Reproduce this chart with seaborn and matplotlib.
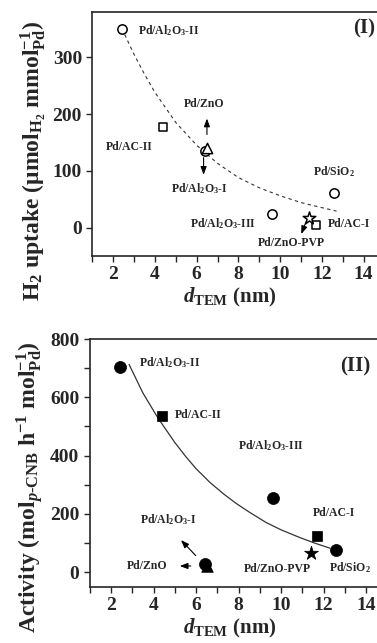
import matplotlib
matplotlib.use("Agg")
import matplotlib.pyplot as plt
import seaborn as sns
import pandas as pd

# ---------------- data ----------------
catalysts = ["Pd/Al2O3-II", "Pd/AC-II", "Pd/ZnO", "Pd/Al2O3-I",
             "Pd/Al2O3-III", "Pd/ZnO-PVP", "Pd/AC-I", "Pd/SiO2"]
shapes = ["o", "s", "^", "o", "o", "*", "s", "o"]
d_tem = [2.4, 4.4, 6.5, 6.4, 9.6, 11.4, 11.7, 12.6]
h2_uptake = [350, 178, 140, 135, 23, 17, 5, 60]
activity = [703, 537, 20, 28, 255, 65, 125, 75]

fit1_x = [2.55, 3.0, 3.5, 4.0, 5.0, 6.0, 7.0, 8.0, 9.0, 10.0, 11.0, 12.0, 12.7]
fit1_y = [340, 305, 270, 238, 185, 145, 113, 88, 70, 56, 44, 35, 29]
fit2_x = [2.85, 3.5, 4.2, 5.0, 5.5, 6.0, 6.65, 7.3, 7.9, 8.5, 9.3, 10.0, 10.9, 11.6, 12.3]
fit2_y = [713, 615, 530, 445, 398, 355, 308, 268, 235, 206, 170, 145, 118, 99, 82]

x_ticks = [2, 4, 6, 8, 10, 12, 14]
y1_ticks = [0, 100, 200, 300]
y2_ticks = [0, 200, 400, 600, 800]

# ---------------- style ----------------
sns.set_theme(style="ticks")
plt.rcParams["font.family"] = ["Liberation Serif", "DejaVu Serif"]
plt.rcParams["font.weight"] = "bold"
plt.rcParams["mathtext.fontset"] = "custom"
plt.rcParams["mathtext.rm"] = "Liberation Serif:bold"
plt.rcParams["mathtext.it"] = "Liberation Serif:italic:bold"
plt.rcParams["mathtext.bf"] = "Liberation Serif:bold"
plt.rcParams["axes.linewidth"] = 1.2

df = pd.DataFrame({"cat": catalysts, "shape": shapes, "d": d_tem,
                   "h2": h2_uptake, "act": activity})

fig = plt.figure(figsize=(3.77, 6.43), dpi=100)
ax1 = fig.add_axes([0.245, 0.602, 0.775, 0.3795])
ax2 = fig.add_axes([0.238, 0.0876, 0.790, 0.385])

size_map = {"o": 45, "s": 40, "^": 55, "*": 90}
size_map2 = {"o": 75, "s": 55, "^": 70, "*": 110}

for shape, g in df.groupby("shape", sort=False):
    sns.scatterplot(x=g["d"], y=g["h2"], marker=shape, s=size_map[shape],
                    facecolor="white", edgecolor="black", linewidth=1.1,
                    ax=ax1, legend=False, zorder=3)
    sns.scatterplot(x=g["d"], y=g["act"], marker=shape, s=size_map2[shape],
                    color="black", edgecolor="black", linewidth=0.5,
                    ax=ax2, legend=False, zorder=3)

sns.lineplot(x=fit1_x, y=fit1_y, ax=ax1, color="#333333", lw=0.8,
             linestyle=(0, (3, 3)), zorder=2)
sns.lineplot(x=fit2_x, y=fit2_y, ax=ax2, color="#333333", lw=0.9, zorder=2)

tfs = 8.5
def lab(ax, x, y, s, ha="center"):
    ax.text(x, y, s, ha=ha, va="center", fontsize=tfs, fontweight="bold")

def arrow(ax, x0, y0, x1, y1, lw=0.8):
    ax.annotate("", xy=(x1, y1), xytext=(x0, y0),
                arrowprops=dict(arrowstyle="-|>,head_length=0.4,head_width=0.15",
                                color="black", lw=lw))

# panel I labels
lab(ax1, 3.2, 347, "Pd/Al$_2$O$_3$-II", ha="left")
lab(ax1, 2.75, 142, "Pd/AC-II")
lab(ax1, 6.37, 217, "Pd/ZnO")
lab(ax1, 6.13, 69, "Pd/Al$_2$O$_3$-I")
lab(ax1, 12.55, 98, "Pd/SiO$_2$")
lab(ax1, 8.85, 7, "Pd/Al$_2$O$_3$-III", ha="right")
lab(ax1, 12.3, 6, "Pd/AC-I", ha="left")
lab(ax1, 10.55, -28, "Pd/ZnO-PVP")
arrow(ax1, 6.49, 159, 6.49, 197)
arrow(ax1, 6.33, 128, 6.33, 88)
arrow(ax1, 11.28, 14, 10.96, -16)
ax1.text(14.55, 350, "(I)", ha="right", va="center", fontsize=15, fontweight="bold")

# panel II labels
lab(ax2, 3.3, 720, "Pd/Al$_2$O$_3$-II", ha="left")
lab(ax2, 5.0, 538, "Pd/AC-II", ha="left")
lab(ax2, 9.52, 436, "Pd/Al$_2$O$_3$-III")
lab(ax2, 12.5, 204, "Pd/AC-I")
lab(ax2, 13.23, 17, "Pd/SiO$_2$")
lab(ax2, 9.83, 12, "Pd/ZnO-PVP")
lab(ax2, 4.69, 179, "Pd/Al$_2$O$_3$-I")
lab(ax2, 3.69, 21, "Pd/ZnO")
arrow(ax2, 5.88, 21, 5.1, 21)
arrow(ax2, 6.07, 50, 5.2, 117)
ax2.text(14.2, 707, "(II)", ha="right", va="center", fontsize=15, fontweight="bold")

for ax in (ax1, ax2):
    ax.set_xlim(1, 15)
    ax.set_xticks(x_ticks)
    ax.set_xticks([1, 3, 5, 7, 9, 11, 13], minor=True)
    ax.tick_params(which="both", direction="out", length=4, width=1.0,
                   labelsize=14)
    for sp in ax.spines.values():
        sp.set_visible(True)
        sp.set_linewidth(1.2)
    ax.set_xlabel("$\\mathit{d}_{\\mathrm{TEM}}$ (nm)", fontsize=15,
                  fontweight="bold", labelpad=2)
    ax.xaxis.label.set_x(0.47)

ax1.set_ylim(-50, 380)
ax1.set_yticks(y1_ticks)
ax2.set_ylim(-50, 800)
ax2.set_yticks(y2_ticks)
ax2.set_yticks([100, 300, 500, 700], minor=True)
for ax in (ax1, ax2):
    for t in ax.get_xticklabels() + ax.get_yticklabels():
        t.set_fontweight("bold")

ax1.set_ylabel("H$_2$ uptake (μmol$_{\\mathrm{H}_2}$ mmol$^{-1}_{\\mathrm{Pd}}$)",
               fontsize=17, fontweight="bold", labelpad=3)
ax2.set_ylabel("Activity (mol$_{\\mathit{p}\\text{-CNB}}$ h$^{-1}$ mol$^{-1}_{\\mathrm{Pd}}$)",
               fontsize=17, fontweight="bold", labelpad=3)
ax1.yaxis.label.set_y(0.39)
ax2.yaxis.label.set_y(0.40)

fig.savefig("out.png", dpi=100)
